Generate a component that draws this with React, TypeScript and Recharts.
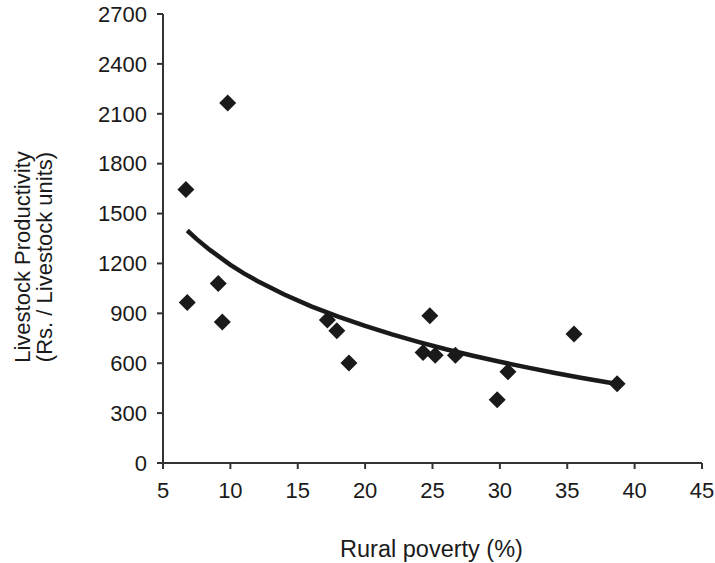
import React from "react";
import {
  ScatterChart,
  Scatter,
  XAxis,
  YAxis,
  Label,
} from "recharts";

const poverty = [6.7, 9.8, 6.8, 9.1, 9.4, 17.2, 17.9, 18.8, 24.8, 24.3, 25.2, 26.7, 29.8, 30.6, 35.5, 38.7];
const productivity = [1645, 2165, 965, 1080, 848, 860, 795, 602, 885, 665, 648, 648, 380, 548, 776, 477];

// trend curve
const trendX = [6.8, 7.5, 8.5, 10, 11, 12, 14, 16, 18, 20, 22, 24, 26, 28, 30, 32, 34, 36, 38.5];
const trendY = [1398, 1346, 1280, 1192, 1140, 1095, 1013, 942, 880, 824, 773, 727, 684, 645, 609, 575, 543, 513, 478];

const xTicks = [5, 10, 15, 20, 25, 30, 35, 40, 45];
const yTicks = [0, 300, 600, 900, 1200, 1500, 1800, 2100, 2400, 2700];

const points = poverty.map((x, i) => ({ x, y: productivity[i] }));
const trend = trendX.map((x, i) => ({ x, y: trendY[i] }));

const font = "'Liberation Sans', Arial, sans-serif";
const ink = "#1a1a1a";

const Diamond = (props: any) => {
  const { cx, cy } = props;
  const r = 8.5;
  return (
    <polygon
      points={`${cx},${cy - r} ${cx + r},${cy} ${cx},${cy + r} ${cx - r},${cy}`}
      fill={ink}
    />
  );
};

const NoDot = () => null;

export default function App() {
  return (
    <div style={{ position: "absolute", left: 0, top: 0, background: "#fff" }}>
      <ScatterChart
        width={715}
        height={563}
        margin={{ top: 14, right: 13, left: 0, bottom: 0 }}
        style={{ fontFamily: font }}
      >
        <XAxis
          type="number"
          dataKey="x"
          domain={[5, 45]}
          ticks={xTicks}
          interval={0}
          height={100}
          tickSize={6}
          tickMargin={13}
          axisLine={{ stroke: "#333", strokeWidth: 2 }}
          tickLine={{ stroke: "#333", strokeWidth: 2 }}
          tick={{ fill: ink, fontSize: 22, fontFamily: font }}
        >
          <Label
            content={(p: any) => {
              const vb = p.viewBox;
              return (
                <text
                  x={vb.x + vb.width / 2 - 1}
                  y={557}
                  textAnchor="middle"
                  fill={ink}
                  fontSize={23.5}
                  fontFamily={font}
                >
                  Rural poverty (%)
                </text>
              );
            }}
          />
        </XAxis>
        <YAxis
          type="number"
          dataKey="y"
          domain={[0, 2700]}
          ticks={yTicks}
          interval={0}
          width={163}
          tickSize={6}
          tickMargin={10}
          axisLine={{ stroke: "#333", strokeWidth: 2 }}
          tickLine={{ stroke: "#333", strokeWidth: 2 }}
          tick={{ fill: ink, fontSize: 22, fontFamily: font }}
        >
          <Label
            content={() => (
              <g fill={ink} fontSize={22} fontFamily={font} textAnchor="middle">
                <text transform="translate(22,257) rotate(-90)" dy="0.35em">
                  Livestock Productivity
                </text>
                <text transform="translate(44,257) rotate(-90)" dy="0.35em">
                  (Rs. / Livestock units)
                </text>
              </g>
            )}
          />
        </YAxis>
        <Scatter
          data={trend}
          line={{ stroke: ink, strokeWidth: 4.5 }}
          lineType="joint"
          shape={NoDot}
          isAnimationActive={false}
        />
        <Scatter data={points} shape={Diamond} isAnimationActive={false} />
      </ScatterChart>
    </div>
  );
}
